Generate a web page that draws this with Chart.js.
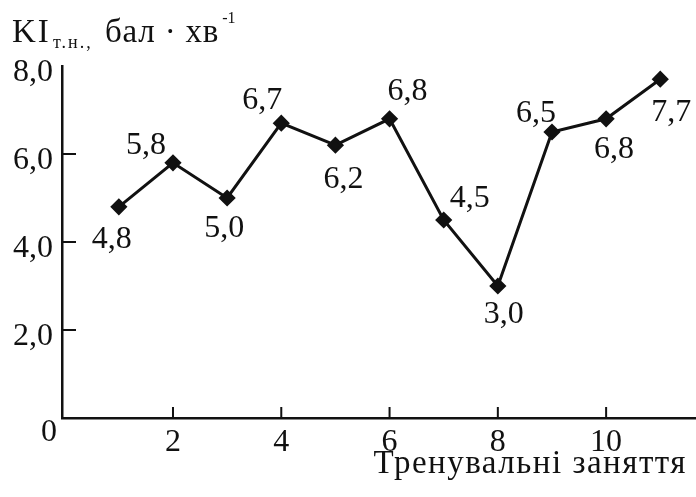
<!DOCTYPE html>
<html lang="uk">
<head>
  <meta charset="UTF-8">
  <title>KI т.н. — тренувальні заняття</title>
  <script src="https://cdn.jsdelivr.net/npm/chart.js"></script>
  <style>
    body { margin: 0; background: white; }
    #wrap { width: 696px; height: 497px; position: relative; }
  </style>
</head>
<body>

<div id="wrap"><canvas id="kiChart"></canvas></div>

<script>
  // дані
  const sessions = [1, 2, 3, 4, 5, 6, 7, 8, 9, 10, 11];
  const kiValues = [4.8, 5.8, 5.0, 6.7, 6.2, 6.8, 4.5, 3.0, 6.5, 6.8, 7.7];
  const xTicks = [2, 4, 6, 8, 10];
  const yTicks = [2, 4, 6, 8];

  // зсув підписів відносно точок (px)
  const labelDx = [-7, -27, -3, -19, 8, 18, 26, 6, -16, 8, 11];
  const labelDy = [33, -17, 31, -23, 34, -27, -21, 29, -18, 31, 33];

  const INK = "#111";
  const SERIF = '"Liberation Serif", "DejaVu Serif", serif';

  Chart.defaults.font.family = SERIF;
  Chart.defaults.font.size = 32;
  Chart.defaults.color = INK;

  const fmt = v => v.toFixed(1).replace(".", ",");

  const extras = {
    id: "extras",
    afterDraw(chart) {
      const ctx = chart.ctx;
      const xs = chart.scales.x;
      const ys = chart.scales.y;
      const x0 = xs.left, y0 = ys.bottom;
      ctx.save();
      ctx.strokeStyle = INK;
      ctx.fillStyle = INK;

      // штрихи всередину
      ctx.lineWidth = 2;
      ctx.beginPath();
      xTicks.forEach(v => {
        const px = xs.getPixelForValue(v);
        ctx.moveTo(px, y0);
        ctx.lineTo(px, y0 - 11);
      });
      yTicks.slice(0, -1).forEach(v => {
        const py = ys.getPixelForValue(v);
        ctx.moveTo(x0, py);
        ctx.lineTo(x0 + 14, py);
      });
      ctx.stroke();

      // підписи значень
      ctx.font = "32px " + SERIF;
      ctx.textAlign = "center";
      ctx.textBaseline = "middle";
      const meta = chart.getDatasetMeta(0);
      meta.data.forEach((pt, i) => {
        ctx.fillText(fmt(kiValues[i]), pt.x + labelDx[i], pt.y + labelDy[i]);
      });

      // нуль у куті
      ctx.fillText("0", x0 - 13, y0 + 15);

      // назва осі Y
      ctx.textAlign = "left";
      ctx.textBaseline = "alphabetic";
      ctx.letterSpacing = "2px";
      ctx.font = "33px " + SERIF;
      ctx.fillText("KI", 12, 42);
      ctx.font = "18px " + SERIF;
      ctx.fillText("т.н.,", 53, 48);
      ctx.letterSpacing = "0.8px";
      ctx.font = "33px " + SERIF;
      ctx.fillText("бал · хв", 105, 42);
      const endX = 105 + ctx.measureText("бал · хв").width;
      ctx.letterSpacing = "0px";
      ctx.font = "16px " + SERIF;
      ctx.fillText("-1", endX + 3, 23);

      // назва осі X
      ctx.letterSpacing = "1.5px";
      ctx.font = "33px " + SERIF;
      ctx.textAlign = "right";
      ctx.fillText("Тренувальні заняття", 687, 473);
      ctx.restore();
    }
  };

  new Chart(document.getElementById("kiChart"), {
    type: "line",
    data: {
      datasets: [{
        data: sessions.map((s, i) => ({ x: s, y: kiValues[i] })),
        borderColor: INK,
        backgroundColor: INK,
        borderWidth: 3,
        pointStyle: "rectRot",
        pointRadius: 6.5,
        pointHoverRadius: 6.5,
        tension: 0,
        fill: false
      }]
    },
    options: {
      responsive: true,
      maintainAspectRatio: false,
      animation: false,
      layout: { autoPadding: false, padding: { top: 66, right: 0, left: 0, bottom: 0 } },
      plugins: { legend: { display: false }, tooltip: { enabled: false } },
      scales: {
        x: {
          type: "linear",
          min: -0.05,
          max: 11.66,
          afterBuildTicks: s => { s.ticks = xTicks.map(v => ({ value: v })); },
          afterFit: s => { s.height = 79; s.paddingLeft = 0; s.paddingRight = 0; },
          grid: { drawOnChartArea: false, drawTicks: false },
          border: { color: INK, width: 2.5 },
          ticks: { padding: 5, callback: v => String(v), maxRotation: 0 }
        },
        y: {
          min: 0,
          max: 8,
          afterBuildTicks: s => { s.ticks = yTicks.map(v => ({ value: v })); },
          afterFit: s => { s.width = 62; s.paddingTop = 0; s.paddingBottom = 0; },
          grid: { drawOnChartArea: false, drawTicks: false },
          border: { color: INK, width: 2.5 },
          ticks: { padding: 9, labelOffset: 7, callback: v => fmt(v) }
        }
      }
    },
    plugins: [extras]
  });
</script>

</body>
</html>
